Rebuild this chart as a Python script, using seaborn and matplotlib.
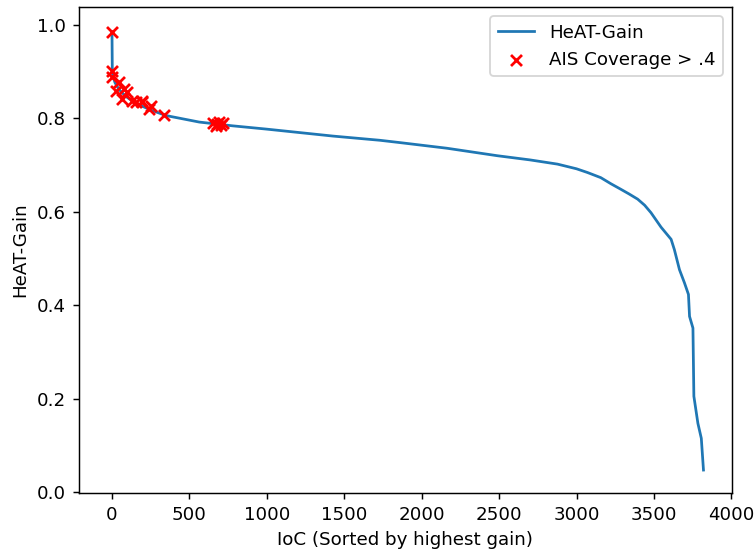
import matplotlib
matplotlib.use("Agg")
import matplotlib.pyplot as plt
import seaborn as sns
import numpy as np

# Sorted HeAT-Gain curve (index -> gain)
curve_idx = [0, 2, 8, 20, 45, 89, 154, 250, 348, 564, 778, 996, 1428, 1731, 1861,
             2163, 2488, 2700, 2877, 3000, 3071, 3157, 3222, 3287, 3340, 3395, 3440,
             3481, 3546, 3611, 3632, 3665, 3697, 3723, 3730, 3752, 3758, 3784, 3806, 3820]
curve_gain = [0.985, 0.902, 0.888, 0.876, 0.862, 0.847, 0.832, 0.818, 0.806, 0.792,
              0.784, 0.777, 0.762, 0.753, 0.748, 0.736, 0.720, 0.711, 0.702, 0.692,
              0.684, 0.673, 0.660, 0.648, 0.638, 0.627, 0.614, 0.598, 0.567, 0.541,
              0.519, 0.476, 0.448, 0.423, 0.376, 0.351, 0.205, 0.147, 0.115, 0.047]

# IoCs with AIS coverage > .4
ais_idx = [0, 2, 0, 45, 24, 78, 99, 67, 132, 154, 194, 196, 237, 251, 334,
           650, 670, 679, 690, 705, 715]
ais_gain = [0.985, 0.902, 0.888, 0.877, 0.859, 0.863, 0.856, 0.841, 0.838, 0.836,
            0.834, 0.838, 0.820, 0.827, 0.807, 0.790, 0.784, 0.788, 0.792, 0.786, 0.790]

DPI = 131.6
fig = plt.figure(figsize=(756 / DPI, 552 / DPI), dpi=DPI)
ax = fig.add_axes([0.1045, 0.107, 0.8635, 0.880])

sns.lineplot(x=curve_idx, y=curve_gain, ax=ax, color="#1f77b4", linewidth=1.5,
             label="HeAT-Gain", sort=False)
sns.scatterplot(x=ais_idx, y=ais_gain, ax=ax, marker="x", color="red", s=36,
                linewidth=1.5, label="AIS Coverage > .4", zorder=3)

ax.set_xlim(-213, 4003)
ax.set_ylim(-0.002, 1.038)
ax.set_xticks([0, 500, 1000, 1500, 2000, 2500, 3000, 3500, 4000])
ax.set_yticks([0.0, 0.2, 0.4, 0.6, 0.8, 1.0])
ax.set_xlabel("IoC (Sorted by highest gain)")
ax.set_ylabel("HeAT-Gain")
ax.legend(loc="upper right")

fig.savefig("out.png", dpi=DPI)
